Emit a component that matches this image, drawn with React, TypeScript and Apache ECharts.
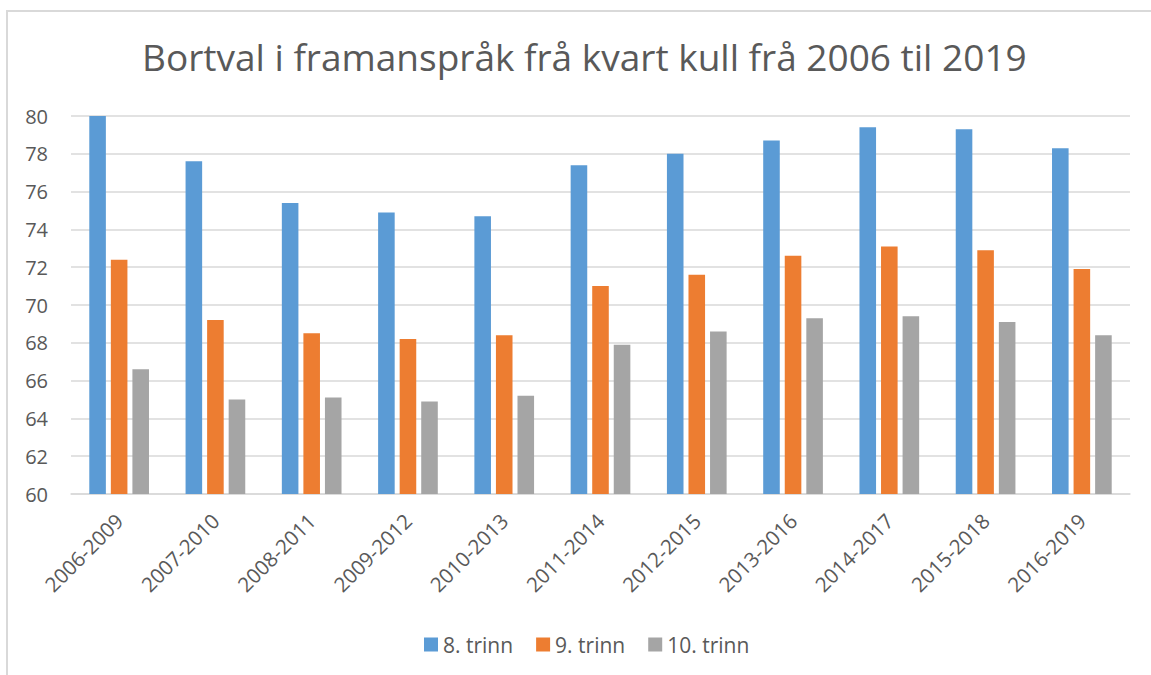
import React, { useEffect, useRef } from "react";
import * as echarts from "echarts";

const categories = [
  "2006-2009", "2007-2010", "2008-2011", "2009-2012", "2010-2013", "2011-2014",
  "2012-2015", "2013-2016", "2014-2017", "2015-2018", "2016-2019",
];
const trinn8 = [80.0, 77.6, 75.4, 74.9, 74.7, 77.4, 78.0, 78.7, 79.4, 79.3, 78.3];
const trinn9 = [72.4, 69.2, 68.5, 68.2, 68.4, 71.0, 71.6, 72.6, 73.1, 72.9, 71.9];
const trinn10 = [66.6, 65.0, 65.1, 64.9, 65.2, 67.9, 68.6, 69.3, 69.4, 69.1, 68.4];
const seriesNames = ["8. trinn", "9. trinn", "10. trinn"];
const titleText = "Bortval i framanspråk frå kvart kull frå 2006 til 2019";

const FONT = "'Open Sans', 'Noto Sans', sans-serif";
const TEXT = "#595959";

export default function App() {
  const ref = useRef<HTMLDivElement>(null);
  useEffect(() => {
    if (!ref.current) return;
    const chart = echarts.init(ref.current, undefined, { renderer: "svg" });
    const colors = ["#5B9BD5", "#ED7D31", "#A5A5A5"];
    const data = [trinn8, trinn9, trinn10];
    chart.setOption({
      animation: false,
      backgroundColor: "#ffffff",
      textStyle: { fontFamily: FONT },
      title: {
        text: titleText,
        left: 137,
        top: 33,
        textStyle: { fontFamily: FONT, fontSize: 37, fontWeight: "normal", color: TEXT },
      },
      legend: {
        data: seriesNames,
        top: 629,
        left: 419,
        itemWidth: 14,
        itemHeight: 14,
        itemGap: 23,
        icon: "rect",
        textStyle: { fontFamily: FONT, fontSize: 21, color: TEXT, padding: [0, 0, 0, 0] },
      },
      grid: { left: 71, right: 21, top: 116, bottom: 181, containLabel: false },
      xAxis: {
        type: "category",
        data: categories,
        axisLine: { show: true, lineStyle: { color: "#D9D9D9", width: 1.5 } },
        axisTick: { show: false },
        axisLabel: {
          rotate: 45,
          margin: 23,
          interval: 0,
          fontFamily: FONT,
          fontSize: 20.5,
          color: TEXT,
        },
      },
      yAxis: {
        type: "value",
        min: 60,
        max: 80,
        interval: 2,
        axisLine: { show: false },
        axisTick: { show: false },
        splitLine: { lineStyle: { color: "#D9D9D9", width: 1.5 } },
        axisLabel: { margin: 23, fontFamily: FONT, fontSize: 20, color: TEXT },
      },
      series: seriesNames.map((name, i) => ({
        name,
        type: "bar",
        data: data[i],
        barGap: "30%",
        barCategoryGap: "38%",
        itemStyle: { color: colors[i] },
      })),
      graphic: [
        { type: "line", shape: { x1: 7, y1: 10, x2: 7, y2: 675 }, style: { stroke: "#D9D9D9", lineWidth: 2 } },
        { type: "line", shape: { x1: 6, y1: 11, x2: 1151, y2: 11 }, style: { stroke: "#D9D9D9", lineWidth: 2 } },
      ],
    });
    return () => chart.dispose();
  }, []);
  return (
    <div
      ref={ref}
      style={{ position: "fixed", left: 0, top: 0, width: 1151, height: 675 }}
    />
  );
}
